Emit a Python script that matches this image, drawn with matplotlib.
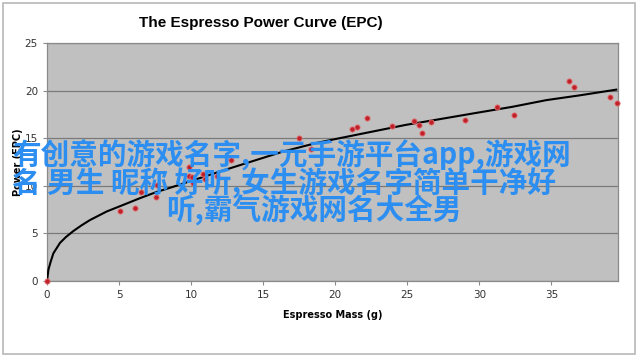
import numpy as np
import matplotlib
matplotlib.use("Agg")
import matplotlib.pyplot as plt
from matplotlib.patches import Rectangle

# scatter values
mass = [0.0, 5.06, 6.08, 6.5, 7.56, 7.6, 9.85, 9.87, 10.03, 10.15, 10.84, 10.96,
        11.77, 12.78, 17.48, 18.35, 21.13, 21.52, 22.2, 23.95, 25.45, 25.78,
        26.05, 26.65, 28.97, 31.23, 32.43, 36.22, 36.55, 39.09, 39.53]
power = [0.0, 7.38, 7.7, 9.38, 8.86, 10.1, 11.0, 12.0, 10.96, 10.26, 11.24, 10.7,
         11.03, 12.7, 14.99, 13.83, 15.93, 16.14, 17.12, 16.32, 16.84, 16.39,
         15.51, 16.7, 16.91, 18.31, 17.4, 21.04, 20.35, 19.36, 18.73]

# trend curve, also
curve_x = [0.0, 0.1, 0.25, 0.44, 0.9, 1.3, 1.83, 2.4, 2.98, 4.14, 5.3, 6.45, 7.6,
           8.76, 10.38, 12.2, 14.08, 16.39, 18.7, 20.3, 22.6, 24.9, 27.25,
           29.56, 32.3, 34.65, 36.96, 39.5]
curve_y = [0.0, 1.2, 2.0, 2.9, 4.0, 4.6, 5.25, 5.85, 6.4, 7.3, 8.0, 8.7, 9.35,
           9.9, 10.7, 11.6, 12.5, 13.6, 14.5, 15.0, 15.7, 16.4, 17.0,
           17.6, 18.3, 19.0, 19.5, 20.1]

overlay = ["有创意的游戏名字,一元手游平台app,游戏网",
           "名 男生 昵称 好听,女生游戏名字简单干净好",
           "听,霸气游戏网名大全男"]

W, H = 640, 358
fig = plt.figure(figsize=(6.4, 3.58), dpi=100)
fig.patches.append(Rectangle((3 / W, 4 / H), 632 / W, 351 / H, transform=fig.transFigure,
                             fill=False, edgecolor="#b8b8b8", lw=1.2))

ax = fig.add_axes([47 / W, 1 - 281 / H, (617.7 - 47) / W, (281 - 43) / H])
ax.set_facecolor("#c0c0c0")
ax.set_xlim(0, 39.6)
ax.set_ylim(0, 25)
ax.set_yticks([0, 5, 10, 15, 20, 25])
ax.set_xticks([0, 5, 10, 15, 20, 25, 30, 35])
ax.yaxis.grid(True, color="#7a7a7a", lw=0.9)
ax.set_axisbelow(True)
for s in ax.spines.values():
    s.set_color("#8a8a8a")
    s.set_linewidth(0.9)
ax.tick_params(colors="#8a8a8a", labelcolor="#333333", labelsize=7.5, length=3, width=0.8)

ax.plot(curve_x, curve_y, color="black", lw=1.5, zorder=3)
ax.scatter(mass, power, s=14, color="#c0202a", edgecolors="#e07070", linewidths=0.6,
           zorder=4, clip_on=False)

ax.set_xlabel("Espresso Mass (g)", fontsize=7, fontweight="bold", labelpad=7)
ax.set_ylabel("Power (EPC)", fontsize=7, fontweight="bold", labelpad=1)

fig.text(261 / W, 1 - 23 / H, "The Espresso Power Curve (EPC)", ha="center", va="center",
         fontsize=11, fontweight="bold", family="Liberation Sans")

cjk = ["Noto Sans CJK SC", "DejaVu Sans"]
pos = [(12, 155), (12, 183), (166, 210)]
for line, (px, py) in zip(overlay, pos):
    fig.text(px / W, 1 - py / H, line, ha="left", va="center", fontsize=20.6,
             fontweight="bold", color="#2b8ef0", family=cjk)

fig.savefig("out.png", dpi=100)
